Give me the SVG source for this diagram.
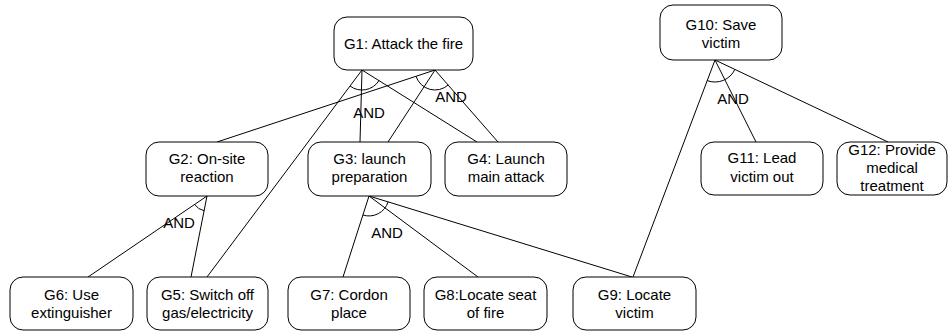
<svg xmlns="http://www.w3.org/2000/svg" width="949" height="333" viewBox="0 0 949 333">
  <style>
    .goal rect { fill: #ffffff; stroke: #000000; stroke-width: 1; }
    .goal text, .and { font-family: "Liberation Sans", Arial, sans-serif; font-size: 15px; fill: #000000; text-anchor: middle; }
    .link { stroke: #000000; stroke-width: 1; fill: none; }
  </style>
  <rect x="0" y="0" width="949" height="333" fill="#ffffff"/>

  <!-- refinement links, AND arcs and their labels -->
  <g id="connectors">
    <!-- G1 left anchor -->
    <line class="link" x1="362" y1="70" x2="207" y2="277"/>
    <line class="link" x1="362" y1="70" x2="360" y2="142"/>
    <line class="link" x1="362" y1="70" x2="477" y2="142"/>
    <path class="link" d="M 350.0 86.0 A 20 20 0 0 0 379.0 80.6"/>
    <!-- G1 right anchor -->
    <line class="link" x1="435" y1="70" x2="217" y2="142"/>
    <line class="link" x1="435" y1="70" x2="388" y2="142"/>
    <line class="link" x1="435" y1="70" x2="498" y2="142"/>
    <path class="link" d="M 416.0 76.3 A 20 20 0 0 0 448.2 85.0"/>
    <!-- G2 -->
    <line class="link" x1="207" y1="196" x2="88" y2="277"/>
    <line class="link" x1="207" y1="196" x2="191" y2="277"/>
    <path class="link" d="M 194.6 204.4 A 15 15 0 0 0 204.1 210.7"/>
    <!-- G3 -->
    <line class="link" x1="369" y1="196" x2="343" y2="277"/>
    <line class="link" x1="369" y1="196" x2="478" y2="277"/>
    <line class="link" x1="369" y1="196" x2="632" y2="277"/>
    <path class="link" d="M 362.9 215.0 A 20 20 0 0 0 388.1 201.9"/>
    <!-- G10 -->
    <line class="link" x1="715" y1="60" x2="633" y2="277"/>
    <line class="link" x1="715" y1="60" x2="756" y2="142"/>
    <line class="link" x1="715" y1="60" x2="888" y2="142"/>
    <path class="link" d="M 707.2 80.6 A 22 22 0 0 0 734.9 69.4"/>

    <text class="and" x="369" y="118">AND</text>
    <text class="and" x="451" y="102">AND</text>
    <text class="and" x="179" y="228">AND</text>
    <text class="and" x="387" y="238">AND</text>
    <text class="and" x="733" y="104">AND</text>
  </g>

  <g id="G1" class="goal">
    <rect x="334" y="17" width="139" height="53" rx="13"/>
    <text x="403.5" y="49">G1: Attack the fire</text>
  </g>
  <g id="G2" class="goal">
    <rect x="146" y="142" width="122" height="54" rx="13"/>
    <text x="207" y="164">G2: On-site</text>
    <text x="207" y="182">reaction</text>
  </g>
  <g id="G3" class="goal">
    <rect x="308" y="142" width="123" height="54" rx="13"/>
    <text x="369.5" y="164">G3: launch</text>
    <text x="369.5" y="182">preparation</text>
  </g>
  <g id="G4" class="goal">
    <rect x="445" y="142" width="122" height="54" rx="13"/>
    <text x="506" y="164">G4: Launch</text>
    <text x="506" y="182">main attack</text>
  </g>
  <g id="G6" class="goal">
    <rect x="10" y="277" width="123" height="53" rx="13"/>
    <text x="71.5" y="300">G6: Use</text>
    <text x="71.5" y="318">extinguisher</text>
  </g>
  <g id="G5" class="goal">
    <rect x="147" y="277" width="121" height="53" rx="13"/>
    <text x="207.5" y="300">G5: Switch off</text>
    <text x="207.5" y="318">gas/electricity</text>
  </g>
  <g id="G7" class="goal">
    <rect x="288" y="277" width="122" height="53" rx="13"/>
    <text x="349" y="300">G7: Cordon</text>
    <text x="349" y="318">place</text>
  </g>
  <g id="G8" class="goal">
    <rect x="424" y="277" width="123" height="53" rx="13"/>
    <text x="485.5" y="300">G8:Locate seat</text>
    <text x="485.5" y="318">of fire</text>
  </g>
  <g id="G9" class="goal">
    <rect x="573" y="277" width="123" height="53" rx="13"/>
    <text x="634.5" y="300">G9: Locate</text>
    <text x="634.5" y="318">victim</text>
  </g>
  <g id="G10" class="goal">
    <rect x="660" y="5" width="122" height="55" rx="13"/>
    <text x="721" y="30">G10: Save</text>
    <text x="721" y="48">victim</text>
  </g>
  <g id="G11" class="goal">
    <rect x="701" y="142" width="122" height="53" rx="13"/>
    <text x="762" y="163">G11: Lead</text>
    <text x="762" y="182">victim out</text>
  </g>
  <g id="G12" class="goal">
    <rect x="837" y="142" width="110" height="53" rx="13"/>
    <text x="892" y="155">G12: Provide</text>
    <text x="892" y="173">medical</text>
    <text x="892" y="191">treatment</text>
  </g>
</svg>
